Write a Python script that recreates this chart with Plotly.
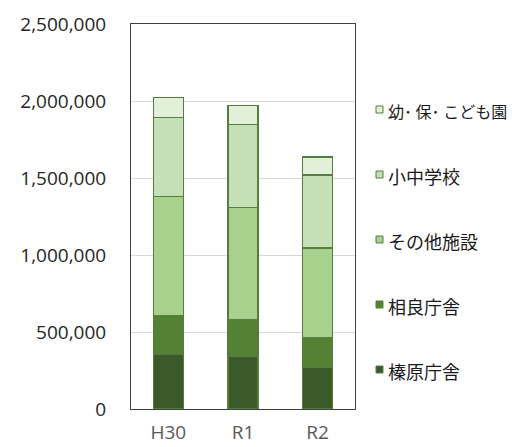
import plotly.graph_objects as go

categories = ["H30", "R1", "R2"]
series_names = ["榛原庁舎", "相良庁舎", "その他施設", "小中学校", "幼･ 保･ こども園"]
haibara = [357000, 344000, 268000]
sagara = [249000, 238000, 195000]
sonota = [773000, 725000, 584000]
shochu = [515000, 539000, 474000]
yoho = [130000, 126000, 115000]
series_values = [haibara, sagara, sonota, shochu, yoho]
colors = ["#3b5a2a", "#548235", "#a9d18e", "#c5e0b4", "#e2f0d9"]
tick_vals = [0, 500000, 1000000, 1500000, 2000000, 2500000]
tick_text = ["0", "500,000", "1,000,000", "1,500,000", "2,000,000", "2,500,000"]

# layout geometry (pixels)
W, H = 512, 447
ML, MR, MT, MB = 131, 157, 24, 38
PW, PH = W - ML - MR, H - MT - MB

def px_x(p):
    return (p - ML) / PW

def px_y(p):
    return (H - MB - p) / PH

fig = go.Figure()
for name, vals, col in zip(series_names, series_values, colors):
    fig.add_trace(go.Bar(
        x=categories, y=vals, name=name, showlegend=False,
        marker=dict(color=col, line=dict(color="#557d40", width=1.5)),
    ))

# legend drawn as a column of swatches + labels (top entry = last series)
row_top, row_step = 111, 65
for k, (name, col) in enumerate(zip(reversed(series_names), reversed(colors))):
    cy = row_top + k * row_step
    fig.add_shape(
        type="rect", xref="paper", yref="paper",
        x0=px_x(376), x1=px_x(383), y0=px_y(cy + 2), y1=px_y(cy - 5),
        fillcolor=col, line=dict(color="#557d40", width=1),
    )
    fig.add_annotation(
        xref="paper", yref="paper", x=px_x(386), y=px_y(cy),
        xanchor="left", yanchor="middle", showarrow=False, text=name,
        font=dict(family="Noto Sans CJK JP", size=16 if len(name) > 6 else 18,
                  color="#1a1a1a"),
    )

fig.update_layout(
    barmode="stack",
    bargap=0.6,
    width=W, height=H,
    margin=dict(l=ML, r=MR, t=MT, b=MB, autoexpand=False),
    paper_bgcolor="white", plot_bgcolor="white",
    font=dict(family="Open Sans, Noto Sans CJK JP", color="#404040"),
    showlegend=False,
    xaxis=dict(
        showline=True, mirror=True, linecolor="#404040", linewidth=1,
        tickfont=dict(size=19, color="#595959"), ticklabelstandoff=6,
        automargin=False,
    ),
    yaxis=dict(
        range=[0, 2500000], tickvals=tick_vals, ticktext=tick_text,
        showline=True, mirror=True, linecolor="#404040", linewidth=1,
        showgrid=True, gridcolor="#d9d9d9", gridwidth=1,
        tickfont=dict(size=19, color="#262626"), ticklabelstandoff=20,
        zeroline=False, automargin=False,
    ),
)

fig.write_html("out.html")
